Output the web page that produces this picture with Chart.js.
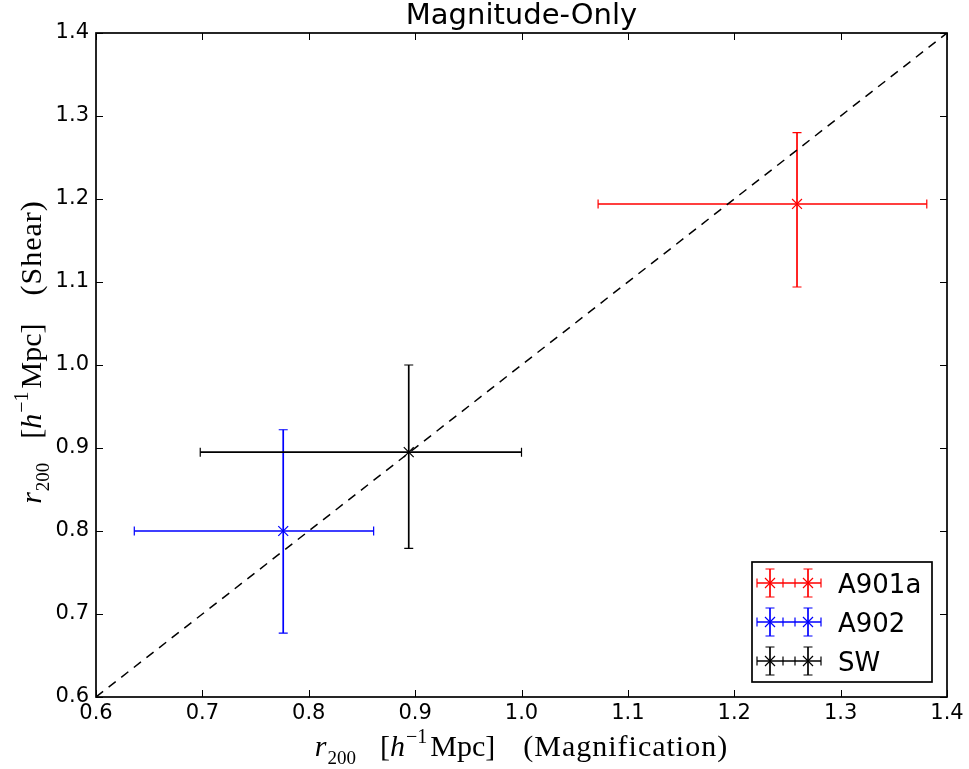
<!DOCTYPE html>
<html>
<head>
<meta charset="utf-8">
<script src="https://cdn.jsdelivr.net/npm/chart.js@4/dist/chart.umd.min.js"></script>
<style>
  html, body { margin: 0; padding: 0; background: #ffffff; }
  canvas { display: block; }
</style>
</head>
<body>
<canvas id="chart" width="969" height="769"></canvas>
<script>
// Cluster r200 estimates: magnification (x) vs shear (y), with error ranges
const clusters = ['A901a', 'A902', 'SW'];
const clusterColors = ['#ff0000', '#0000ff', '#000000'];
const r200Mag = [1.259, 0.776, 0.894];
const r200MagLow = [1.072, 0.636, 0.698];
const r200MagHigh = [1.381, 0.861, 1.000];
const r200Shear = [1.194, 0.800, 0.895];
const r200ShearLow = [1.094, 0.677, 0.779];
const r200ShearHigh = [1.280, 0.922, 1.000];

// Axis ticks and the one-to-one reference line
const xTicks = [0.6, 0.7, 0.8, 0.9, 1.0, 1.1, 1.2, 1.3, 1.4];
const yTicks = [0.6, 0.7, 0.8, 0.9, 1.0, 1.1, 1.2, 1.3, 1.4];
const diagonal = [0.6, 1.4];

const SANS = '"DejaVu Sans", sans-serif';
const SERIF = '"Liberation Serif", "DejaVu Serif", serif';

const datasets = clusters.map((name, i) => ({
  type: 'scatter',
  label: name,
  data: [{ x: r200Mag[i], y: r200Shear[i] }],
  pointStyle: 'crossRot',
  pointRadius: 7,
  pointHoverRadius: 7,
  pointBorderWidth: 1.2,
  borderColor: clusterColors[i],
  backgroundColor: clusterColors[i],
  order: 1
}));
datasets.push({
  type: 'line',
  label: 'one-to-one',
  data: diagonal.map(v => ({ x: v, y: v })),
  borderColor: '#000000',
  borderWidth: 1.5,
  borderDash: [9, 7],
  pointRadius: 0,
  fill: false,
  order: 0
});

// Error bars with caps, drawn from the data arrays through the scales
const errorBars = {
  id: 'errorBars',
  beforeDatasetsDraw(chart) {
    const { ctx, scales: { x, y } } = chart;
    const cap = 4.5;
    ctx.save();
    clusters.forEach((_, i) => {
      const cx = x.getPixelForValue(r200Mag[i]);
      const cy = y.getPixelForValue(r200Shear[i]);
      const xl = x.getPixelForValue(r200MagLow[i]);
      const xh = x.getPixelForValue(r200MagHigh[i]);
      const yl = y.getPixelForValue(r200ShearLow[i]);
      const yh = y.getPixelForValue(r200ShearHigh[i]);
      ctx.strokeStyle = clusterColors[i];
      ctx.lineWidth = 1.7;
      ctx.beginPath();
      ctx.moveTo(xl, cy); ctx.lineTo(xh, cy);
      ctx.moveTo(cx, yl); ctx.lineTo(cx, yh);
      ctx.stroke();
      ctx.lineWidth = 1.2;
      ctx.beginPath();
      ctx.moveTo(xl, cy - cap); ctx.lineTo(xl, cy + cap);
      ctx.moveTo(xh, cy - cap); ctx.lineTo(xh, cy + cap);
      ctx.moveTo(cx - cap, yl); ctx.lineTo(cx + cap, yl);
      ctx.moveTo(cx - cap, yh); ctx.lineTo(cx + cap, yh);
      ctx.stroke();
    });
    ctx.restore();
  }
};

// Draws a run of styled text pieces centred on (cx, baseline)
function drawRich(ctx, pieces, cx, baseline) {
  let total = 0;
  pieces.forEach(p => {
    ctx.font = p.font;
    ctx.letterSpacing = (p.spacing || 0) + 'px';
    p.w = ctx.measureText(p.text).width;
    total += p.w + (p.gap || 0);
  });
  let xPos = cx - total / 2;
  ctx.textBaseline = 'alphabetic';
  ctx.textAlign = 'left';
  pieces.forEach(p => {
    ctx.font = p.font;
    ctx.letterSpacing = (p.spacing || 0) + 'px';
    ctx.fillText(p.text, xPos, baseline + (p.dy || 0));
    xPos += p.w + (p.gap || 0);
  });
  ctx.letterSpacing = '0px';
}

function axisLabelPieces(quantity) {
  const base = 30;
  return [
    { text: 'r', font: `italic ${base}px ${SERIF}`, gap: 1 },
    { text: '200', font: `19px ${SERIF}`, dy: 8, gap: 24 },
    { text: '[', font: `${base}px ${SERIF}` },
    { text: 'h', font: `italic ${base}px ${SERIF}`, gap: 1 },
    { text: '\u22121', font: `20px ${SERIF}`, dy: -13, gap: 3 },
    { text: 'Mpc]', font: `${base}px ${SERIF}`, gap: 28 },
    { text: '(' + quantity + ')', font: `${base}px ${SERIF}`, spacing: 1 }
  ];
}

// Frame, inward tick marks, title, axis labels and legend
const decorations = {
  id: 'decorations',
  afterDraw(chart) {
    const { ctx, chartArea: a, scales: { x, y } } = chart;
    ctx.save();
    ctx.strokeStyle = '#000000';
    ctx.lineWidth = 1;
    const tl = 7;
    ctx.beginPath();
    xTicks.forEach(v => {
      const px = Math.round(x.getPixelForValue(v)) + 0.5;
      ctx.moveTo(px, a.bottom); ctx.lineTo(px, a.bottom - tl);
      ctx.moveTo(px, a.top); ctx.lineTo(px, a.top + tl);
    });
    yTicks.forEach(v => {
      const py = Math.round(y.getPixelForValue(v)) + 0.5;
      ctx.moveTo(a.left, py); ctx.lineTo(a.left + tl, py);
      ctx.moveTo(a.right, py); ctx.lineTo(a.right - tl, py);
    });
    ctx.stroke();
    ctx.lineWidth = 1.7;
    ctx.strokeRect(a.left, a.top, a.right - a.left, a.bottom - a.top);

    // Title
    ctx.fillStyle = '#000000';
    ctx.font = `29px ${SANS}`;
    ctx.textAlign = 'center';
    ctx.textBaseline = 'alphabetic';
    ctx.fillText('Magnitude-Only', (a.left + a.right) / 2, 24);

    // Axis labels
    drawRich(ctx, axisLabelPieces('Magnification'), (a.left + a.right) / 2, 756);
    ctx.save();
    ctx.translate(41, 352);
    ctx.rotate(-Math.PI / 2);
    drawRich(ctx, axisLabelPieces('Shear'), 0, 0);
    ctx.restore();

    // Legend
    const box = { x: 752, y: 562, w: 180, h: 120 };
    ctx.fillStyle = '#ffffff';
    ctx.fillRect(box.x, box.y, box.w, box.h);
    ctx.lineWidth = 1.7;
    ctx.strokeStyle = '#000000';
    ctx.strokeRect(box.x, box.y, box.w, box.h);
    const rowY = [583, 622, 661];
    const lineStart = 757, lineEnd = 821;
    const marks = [770, 808];
    const half = 13, vHalf = 14, cap = 4.5;
    clusters.forEach((name, i) => {
      const cy = rowY[i];
      const col = clusterColors[i];
      ctx.strokeStyle = col;
      ctx.lineWidth = 1.7;
      ctx.beginPath();
      ctx.moveTo(lineStart, cy); ctx.lineTo(lineEnd, cy);
      marks.forEach(mx => {
        ctx.moveTo(mx, cy - vHalf); ctx.lineTo(mx, cy + vHalf);
      });
      ctx.stroke();
      ctx.lineWidth = 1.2;
      ctx.beginPath();
      marks.forEach(mx => {
        ctx.moveTo(mx - half, cy - cap); ctx.lineTo(mx - half, cy + cap);
        ctx.moveTo(mx + half, cy - cap); ctx.lineTo(mx + half, cy + cap);
        ctx.moveTo(mx - cap, cy - vHalf); ctx.lineTo(mx + cap, cy - vHalf);
        ctx.moveTo(mx - cap, cy + vHalf); ctx.lineTo(mx + cap, cy + vHalf);
        const d = 5;
        ctx.moveTo(mx - d, cy - d); ctx.lineTo(mx + d, cy + d);
        ctx.moveTo(mx - d, cy + d); ctx.lineTo(mx + d, cy - d);
      });
      ctx.stroke();
      ctx.fillStyle = '#000000';
      ctx.font = `26px ${SANS}`;
      ctx.textAlign = 'left';
      ctx.textBaseline = 'alphabetic';
      ctx.fillText(name, 838, cy + 10);
    });
    ctx.restore();
  }
};

new Chart(document.getElementById('chart'), {
  data: { datasets },
  options: {
    responsive: false,
    animation: false,
    devicePixelRatio: 1,
    layout: { padding: { left: 0, right: 22, top: 33, bottom: 0 } },
    plugins: { legend: { display: false }, tooltip: { enabled: false }, title: { display: false } },
    scales: {
      x: {
        type: 'linear',
        min: 0.6,
        max: 1.4,
        afterBuildTicks(scale) { scale.ticks = xTicks.map(v => ({ value: v })); },
        afterFit(scale) { scale.height = 72; },
        grid: { display: false, drawTicks: false },
        border: { display: false },
        ticks: {
          padding: 4,
          color: '#000000',
          font: { family: SANS, size: 21 },
          maxRotation: 0,
          autoSkip: false,
          callback: v => Number(v).toFixed(1)
        }
      },
      y: {
        type: 'linear',
        min: 0.6,
        max: 1.4,
        afterBuildTicks(scale) { scale.ticks = yTicks.map(v => ({ value: v })); },
        afterFit(scale) { scale.width = 96; },
        grid: { display: false, drawTicks: false },
        border: { display: false },
        ticks: {
          padding: 7,
          color: '#000000',
          font: { family: SANS, size: 21 },
          autoSkip: false,
          callback: v => Number(v).toFixed(1)
        }
      }
    }
  },
  plugins: [errorBars, decorations]
});
</script>
</body>
</html>
